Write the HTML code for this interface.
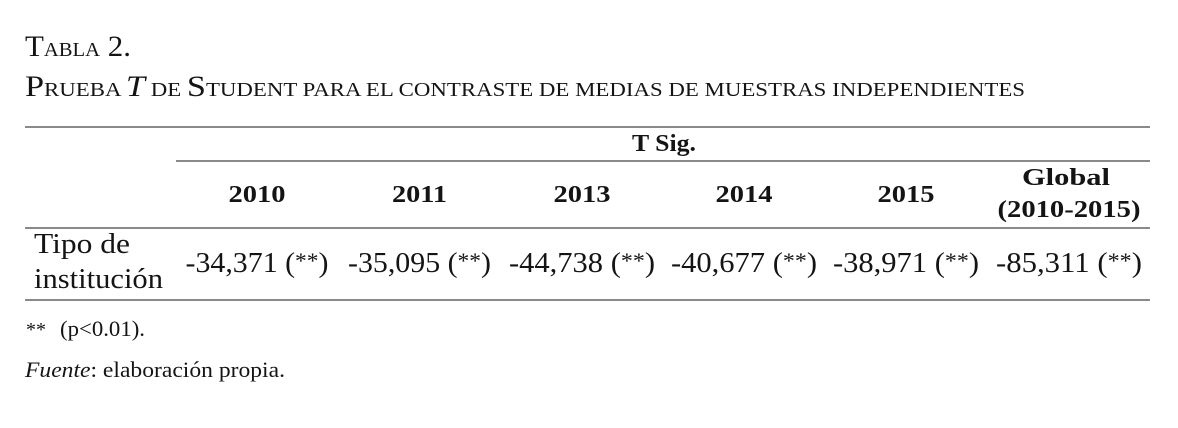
<!DOCTYPE html>
<html><head><meta charset="utf-8"><style>
html,body{margin:0;padding:0;background:#fff;}
svg{display:block;}
text{font-family:"Liberation Serif",serif;fill:#141414;}
.b{font-weight:bold;}
</style></head><body>
<svg width="1178" height="428" viewBox="0 0 1178 428" xmlns="http://www.w3.org/2000/svg">
<rect width="1178" height="428" fill="#fff"/>
<!-- Title -->
<text x="25" y="56" font-size="30" textLength="106" lengthAdjust="spacingAndGlyphs">T<tspan font-size="20">ABLA</tspan> 2.</text>
<text x="25" y="96" font-size="30" textLength="1000" lengthAdjust="spacingAndGlyphs">P<tspan font-size="20">RUEBA </tspan><tspan font-style="italic">T</tspan><tspan font-size="20"> DE </tspan>S<tspan font-size="20">TUDENT PARA EL CONTRASTE DE MEDIAS DE MUESTRAS INDEPENDIENTES</tspan></text>
<!-- Rules -->
<rect x="25" y="126" width="1125" height="2" fill="#8a8a8a"/>
<rect x="176" y="160" width="974" height="2" fill="#8a8a8a"/>
<rect x="25" y="227" width="1125" height="2" fill="#8a8a8a"/>
<rect x="25" y="299" width="1125" height="2" fill="#8a8a8a"/>
<!-- Header -->
<text class="b" x="664" y="151" font-size="24" text-anchor="middle" textLength="64" lengthAdjust="spacingAndGlyphs">T Sig.</text>
<text class="b" x="257" y="202" font-size="24" text-anchor="middle" textLength="57" lengthAdjust="spacingAndGlyphs">2010</text>
<text class="b" x="419.5" y="202" font-size="24" text-anchor="middle" textLength="55" lengthAdjust="spacingAndGlyphs">2011</text>
<text class="b" x="582" y="202" font-size="24" text-anchor="middle" textLength="57" lengthAdjust="spacingAndGlyphs">2013</text>
<text class="b" x="744" y="202" font-size="24" text-anchor="middle" textLength="57" lengthAdjust="spacingAndGlyphs">2014</text>
<text class="b" x="906" y="202" font-size="24" text-anchor="middle" textLength="57" lengthAdjust="spacingAndGlyphs">2015</text>
<text class="b" x="1066" y="185" font-size="24" text-anchor="middle" textLength="88" lengthAdjust="spacingAndGlyphs">Global</text>
<text class="b" x="1069" y="217" font-size="24" text-anchor="middle" textLength="143" lengthAdjust="spacingAndGlyphs">(2010-2015)</text>
<!-- Data row -->
<text x="34" y="253" font-size="28" textLength="96" lengthAdjust="spacingAndGlyphs">Tipo de</text>
<text x="34" y="288" font-size="28" textLength="129" lengthAdjust="spacingAndGlyphs">institución</text>
<text x="257" y="272" font-size="28" text-anchor="middle" textLength="143" lengthAdjust="spacingAndGlyphs">-34,371 (<tspan font-size="22" dy="-4">**</tspan><tspan dy="4">)</tspan></text>
<text x="419.5" y="272" font-size="28" text-anchor="middle" textLength="143" lengthAdjust="spacingAndGlyphs">-35,095 (<tspan font-size="22" dy="-4">**</tspan><tspan dy="4">)</tspan></text>
<text x="582" y="272" font-size="28" text-anchor="middle" textLength="146" lengthAdjust="spacingAndGlyphs">-44,738 (<tspan font-size="22" dy="-4">**</tspan><tspan dy="4">)</tspan></text>
<text x="744" y="272" font-size="28" text-anchor="middle" textLength="146" lengthAdjust="spacingAndGlyphs">-40,677 (<tspan font-size="22" dy="-4">**</tspan><tspan dy="4">)</tspan></text>
<text x="906" y="272" font-size="28" text-anchor="middle" textLength="146" lengthAdjust="spacingAndGlyphs">-38,971 (<tspan font-size="22" dy="-4">**</tspan><tspan dy="4">)</tspan></text>
<text x="1069" y="272" font-size="28" text-anchor="middle" textLength="146" lengthAdjust="spacingAndGlyphs">-85,311 (<tspan font-size="22" dy="-4">**</tspan><tspan dy="4">)</tspan></text>
<!-- Footer -->
<text x="26" y="336" font-size="20">**</text>
<text x="60" y="336" font-size="22" textLength="85" lengthAdjust="spacingAndGlyphs">(p&lt;0.01).</text>
<text x="25" y="377" font-size="22" textLength="260" lengthAdjust="spacingAndGlyphs"><tspan font-style="italic">Fuente</tspan>: elaboración propia.</text>
</svg>
</body></html>
